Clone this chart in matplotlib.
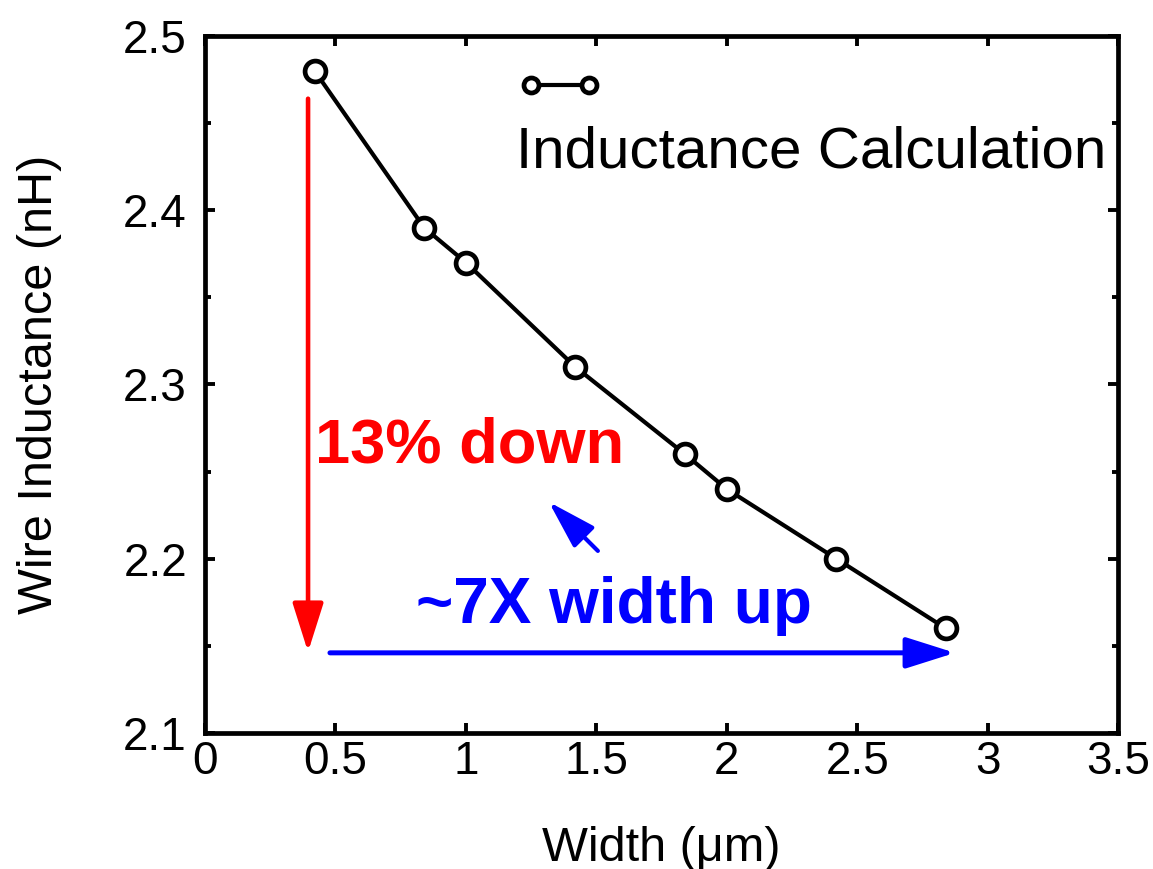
import matplotlib
matplotlib.use("Agg")
import matplotlib.pyplot as plt
from matplotlib.patches import FancyArrowPatch
from matplotlib.legend_handler import HandlerLine2D
from matplotlib.ticker import MultipleLocator

plt.rcParams['font.family'] = ['Liberation Sans', 'DejaVu Sans']

# ---- data ----
width_um = [0.42, 0.84, 1.0, 1.42, 1.84, 2.0, 2.42, 2.84]
inductance_nH = [2.48, 2.39, 2.37, 2.31, 2.26, 2.24, 2.20, 2.16]
series_label = "Inductance Calculation"
xlabel = "Width (\u03bcm)"
ylabel = "Wire Inductance (nH)"
xticks = [0, 0.5, 1, 1.5, 2, 2.5, 3, 3.5]
xticklabels = ["0", "0.5", "1", "1.5", "2", "2.5", "3", "3.5"]
yticks = [2.1, 2.2, 2.3, 2.4, 2.5]
yticklabels = ["2.1", "2.2", "2.3", "2.4", "2.5"]

# annotation texts / anchor positions (data coords)
down_text = "13% down"
down_text_pos = (0.42, 2.255)
up_text = "~7X width up"
up_text_pos = (0.81, 2.163)
red_arrow = ((0.395, 2.464), (0.395, 2.1465))
blue_arrow = ((0.479, 2.146), (2.875, 2.146))
small_arrow = ((1.506, 2.2045), (1.318, 2.2326))

fig = plt.figure(figsize=(11.53, 8.69), dpi=100)
ax = fig.add_axes([0.1778, 0.1565, 0.7919, 0.8021])

line, = ax.plot(width_um, inductance_nH, color='black', lw=3.0,
                marker='o', markersize=15, markerfacecolor='white',
                markeredgecolor='black', markeredgewidth=3.4, zorder=3)

ax.set_xlim(0, 3.5)
ax.set_ylim(2.1, 2.5)
ax.set_xticks(xticks)
ax.set_xticklabels(xticklabels)
ax.set_yticks(yticks)
ax.set_yticklabels(yticklabels)
ax.yaxis.set_minor_locator(MultipleLocator(0.05))

for s in ax.spines.values():
    s.set_linewidth(3.4)
ax.tick_params(which='both', direction='in', top=True, right=True,
               width=2.8, labelsize=33)
ax.tick_params(which='major', length=7.5)
ax.tick_params(which='minor', length=4.5)
ax.tick_params(axis='x', pad=5)
ax.tick_params(axis='y', pad=13)

ax.set_xlabel(xlabel, fontsize=35, labelpad=30)
ax.set_ylabel(ylabel, fontsize=35, labelpad=44)

# legend (handle only) + label text below
leg = ax.legend([line], [""], loc='center', bbox_to_anchor=(0.389, 0.9225),
                frameon=False, numpoints=2, handlelength=1.16,
                handletextpad=0, borderpad=0, borderaxespad=0,
                fontsize=36, markerscale=0.72,
                handler_map={line: HandlerLine2D(marker_pad=0, numpoints=2)})
ax.text(0.3406, 0.8106, series_label, transform=ax.transAxes,
        fontsize=42, va='baseline', ha='left', color='black')

# arrows
def arrow(p0, p1, color, lw, hl, hw):
    a = FancyArrowPatch(p0, p1, arrowstyle=f'-|>,head_length={hl},head_width={hw}',
                        mutation_scale=1, color=color, lw=lw,
                        shrinkA=0, shrinkB=0, zorder=2)
    ax.add_patch(a)

arrow(*red_arrow, color='red', lw=3.3, hl=30, hw=9.5)
arrow(*blue_arrow, color='blue', lw=3.6, hl=30, hw=9.5)
arrow(*small_arrow, color='blue', lw=3.0, hl=30, hw=9.0)

ax.text(*down_text_pos, down_text, color='red', fontsize=45.5,
        fontweight='bold', va='baseline', ha='left')
ax.text(*up_text_pos, up_text, color='blue', fontsize=46,
        fontweight='bold', va='baseline', ha='left')

fig.savefig("out.png", dpi=100)
